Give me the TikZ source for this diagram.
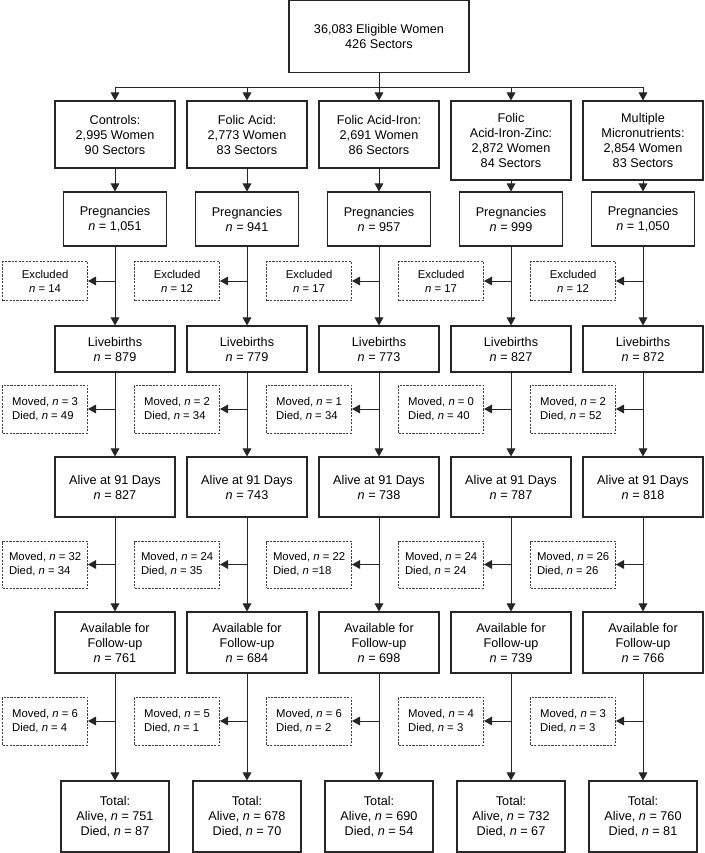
\documentclass[tikz,border=0pt]{standalone}
\usepackage{fontspec}
\setmainfont{Liberation Sans}
\usetikzlibrary{arrows.meta}
\newcommand{\cnt}{\textit{n}}

\begin{document}
\begin{tikzpicture}[x=0.75pt,y=-0.75pt,
  mainbox/.style={draw=black!85, line width=0.8pt, align=center, inner sep=1pt,
    font=\fontsize{9.5}{11.25}\selectfont, minimum width=90pt},
  sidebox/.style={draw=black!75, dash pattern=on 1.6pt off 1pt, line width=0.6pt,
    font=\fontsize{8.5}{10.5}\selectfont, minimum width=63.75pt, inner sep=1pt,
    anchor=east, xshift=-20.25pt},
  link/.style={draw=black!85, line width=0.75pt},
  arr/.style={link, -{Triangle[length=6pt,width=6.5pt]}}]
\useasboundingbox (0,0) rectangle (704,853);

\foreach \i/\x in {1/115,2/247,3/379,4/511,5/643}
  \coordinate (col\i) at (\x,87);

\node[mainbox, minimum width=135pt, minimum height=54pt] (elig) at (379,36.5)
  {36,083 Eligible Women\\426 Sectors};

% treatment groups
\node[mainbox, minimum height=50.25pt] (grp1) at (col1 |- 0,134.5) {Controls:\\2,995 Women\\90 Sectors};
\node[mainbox, minimum height=50.25pt] (grp2) at (col2 |- 0,134.5) {Folic Acid:\\2,773 Women\\83 Sectors};
\node[mainbox, minimum height=50.25pt] (grp3) at (col3 |- 0,134.5) {Folic Acid-Iron:\\2,691 Women\\86 Sectors};
\node[mainbox, minimum height=59.25pt] (grp4) at (col4 |- 0,140.5) {Folic\\Acid-Iron-Zinc:\\2,872 Women\\84 Sectors};
\node[mainbox, minimum height=59.25pt] (grp5) at (col5 |- 0,140.5) {Multiple\\Micronutrients:\\2,854 Women\\83 Sectors};

% main rows
\foreach \i/\v in {1/{1,051},2/941,3/957,4/999,5/{1,050}}
  \node[mainbox, minimum width=77.25pt, minimum height=40.5pt] (preg\i) at (col\i |- 0,219) {Pregnancies\\\cnt{} = \v};
\foreach \i/\v in {1/879,2/779,3/773,4/827,5/872}
  \node[mainbox, minimum height=34.5pt] (live\i) at (col\i |- 0,349) {Livebirths\\\cnt{} = \v};
\foreach \i/\v in {1/827,2/743,3/738,4/787,5/818}
  \node[mainbox, minimum height=45pt] (alive\i) at (col\i |- 0,487) {Alive at 91 Days\\\cnt{} = \v};
\foreach \i/\v in {1/761,2/684,3/698,4/739,5/766}
  \node[mainbox, minimum height=45.75pt] (avail\i) at (col\i |- 0,642.5) {Available for\\Follow-up\\\cnt{} = \v};
\foreach \i/\a/\d in {1/751/87,2/678/70,3/690/54,4/732/67,5/760/81}
  \node[mainbox, minimum width=81pt, minimum height=53.25pt] (total\i) at (col\i |- 0,816.5) {Total:\\Alive, \cnt{} = \a\\Died, \cnt{} = \d};

% losses
\foreach \i/\v in {1/14,2/12,3/17,4/17,5/12}
  \node[sidebox, align=center, minimum height=29.25pt] (excl\i) at (col\i |- 0,281) {Excluded\\\cnt{} = \v};
\foreach \i/\m/\d in {1/3/49,2/2/34,3/1/34,4/0/40,5/2/52}
  \node[sidebox, align=left, minimum height=36pt] (lossa\i) at (col\i |- 0,409) {Moved, \cnt{} = \m\\Died, \cnt{} = \d};
\foreach \i/\m/\d in {1/32/34,2/24/35,4/24/24,5/26/26}
  \node[sidebox, align=left, minimum height=35.25pt] (lossb\i) at (col\i |- 0,564.5) {Moved, \cnt{} = \m\\Died, \cnt{} = \d};
\node[sidebox, align=left, minimum height=35.25pt] (lossb3) at (col3 |- 0,564.5) {Moved, \cnt{} = 22\\Died, \cnt{} =18};
\foreach \i/\m/\d in {1/6/4,2/5/1,3/6/2,4/4/3,5/3/3}
  \node[sidebox, align=left, minimum height=36pt] (lossc\i) at (col\i |- 0,721) {Moved, \cnt{} = \m\\Died, \cnt{} = \d};

% connectors
\draw[link] (elig) -- (col3);
\draw[link] (col1) -- (col5);
\foreach \i in {1,...,5}
{
  \draw[arr] (col\i) -- (grp\i);
  \draw[arr] (grp\i) -- (preg\i);
  \draw[arr] (preg\i) -- (live\i);
  \draw[arr] (live\i) -- (alive\i);
  \draw[arr] (alive\i) -- (avail\i);
  \draw[arr] (avail\i) -- (total\i);
  \draw[arr] (col\i |- excl\i.east) -- (excl\i.east);
  \draw[arr] (col\i |- lossa\i.east) -- (lossa\i.east);
  \draw[arr] (col\i |- lossb\i.east) -- (lossb\i.east);
  \draw[arr] (col\i |- lossc\i.east) -- (lossc\i.east);
}
\end{tikzpicture}
\end{document}
